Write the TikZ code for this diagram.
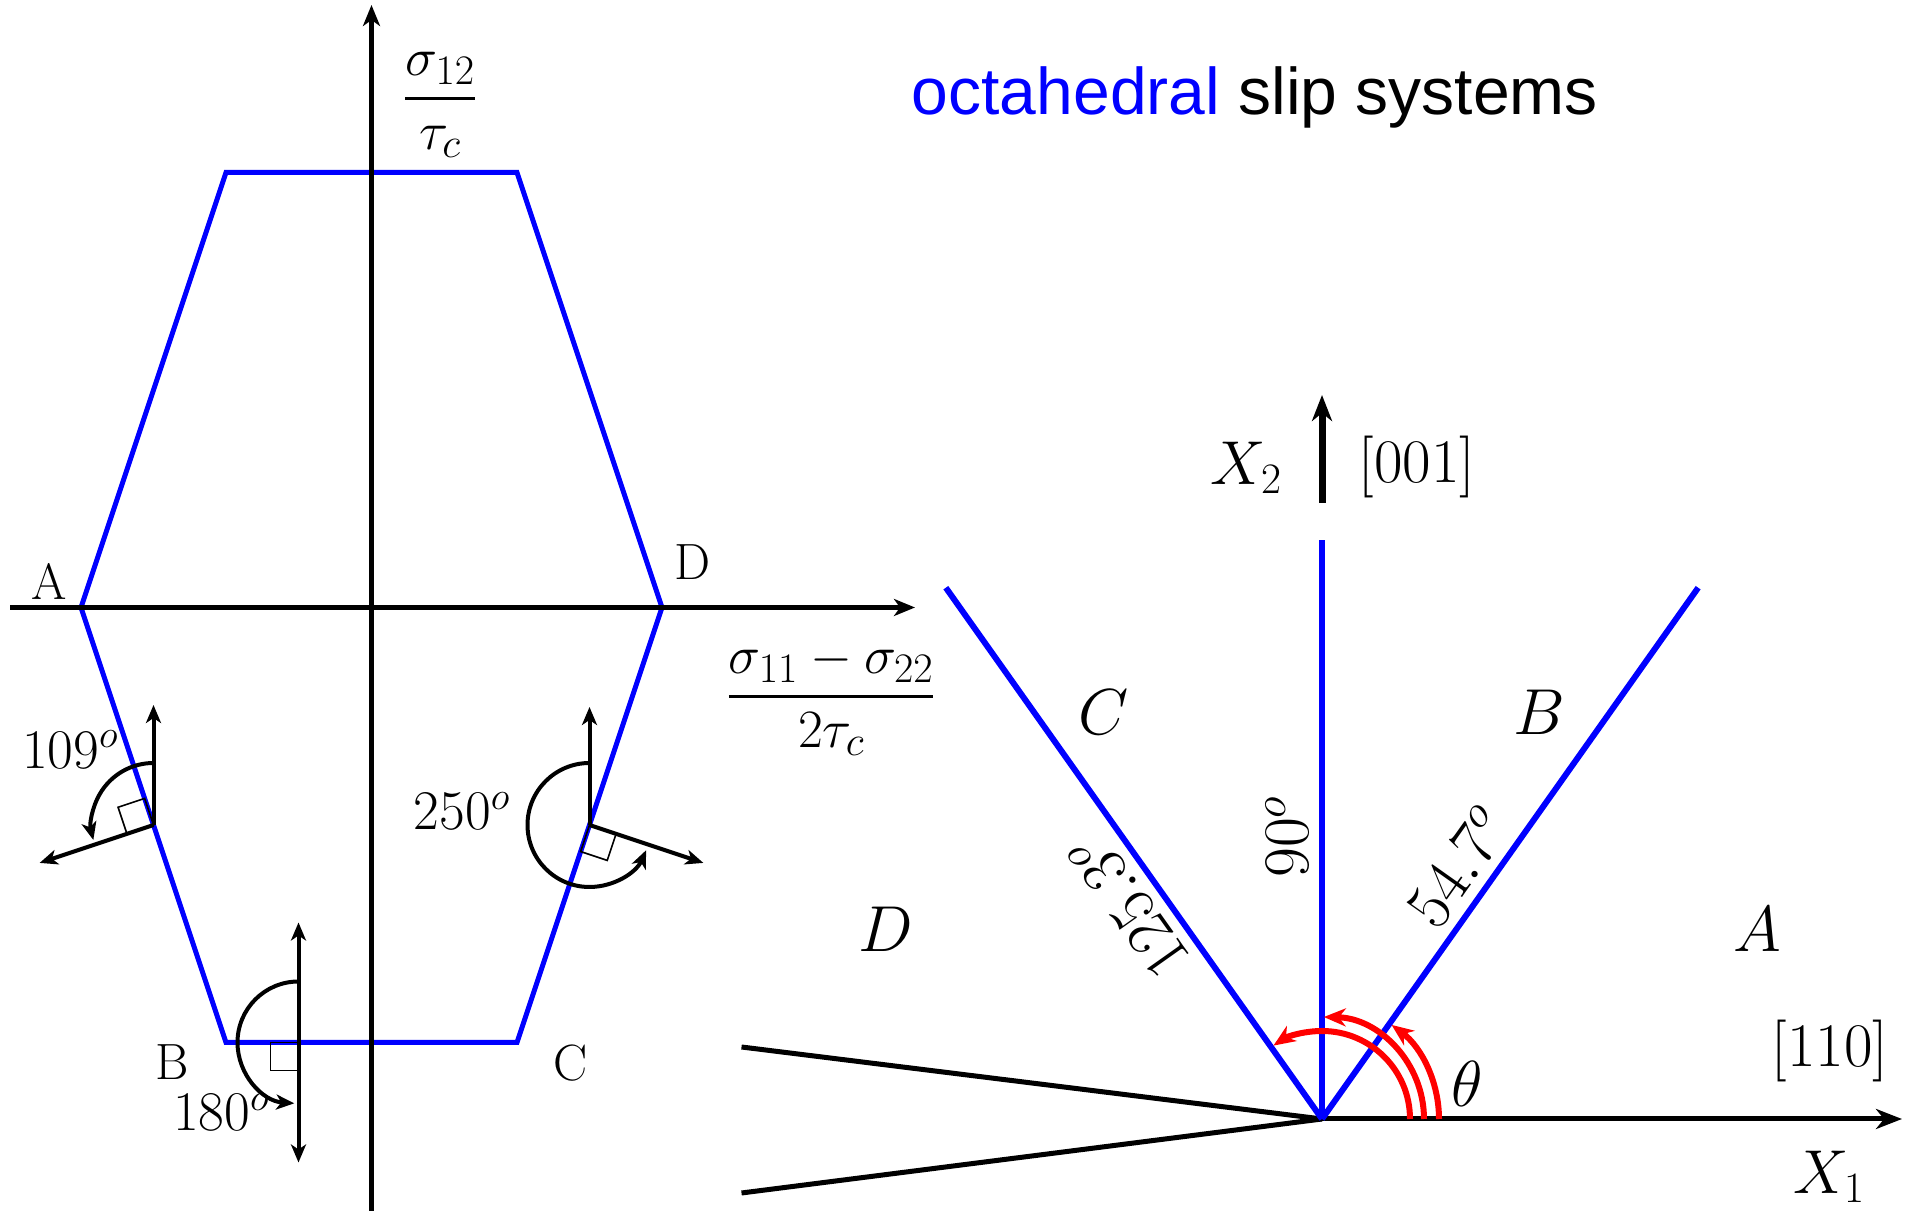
\RequirePackage{fix-cm}
\documentclass[tikz,border=0pt]{standalone}
\usepackage{amsmath}
\usepackage{fontspec}
\newfontfamily\titlefont{Liberation Sans}
\usetikzlibrary{arrows.meta,calc}
\newcommand\sbz[1]{\mbox{\fontsize{42}{46}\selectfont$#1$}}

\begin{document}
\begin{tikzpicture}[x=1pt,y=1pt,
  ax/.style={line width=5pt},
  hexa/.style={blue,line width=5pt,line join=miter},
  slipline/.style={blue,line width=6pt},
  sq/.style={line width=1.6pt},
  smallar/.style={line width=4pt},
  redarc/.style={red,line width=6pt},
  tipA/.style={-{Stealth[length=21pt,width=17pt,inset=6pt]}},
  tipB/.style={-{Stealth[length=26pt,width=20pt,inset=8pt]}},
  tipS/.style={-{Stealth[length=18pt,width=15pt,inset=5pt]}},
  tipSS/.style={{Stealth[length=18pt,width=15pt,inset=5pt]}-{Stealth[length=18pt,width=15pt,inset=5pt]}},
  tipR/.style={-{Stealth[length=22pt,width=18pt,inset=7pt]}},
  lbl/.style={inner sep=0pt,font=\fontsize{51}{60}\selectfont},
  ang/.style={inner sep=0pt,font=\fontsize{56}{66}\selectfont},
  fraclbl/.style={inner sep=0pt,font=\fontsize{54}{64}\selectfont},
  mlbl/.style={inner sep=0pt,font=\fontsize{62}{74}\selectfont},
  rlbl/.style={inner sep=0pt,font=\fontsize{65}{78}\selectfont},
]
\useasboundingbox (0,0) rectangle (1909,1217);

% ---------------- left diagram ----------------
\coordinate (O1) at (371.5,609.5);
\coordinate (A) at (81,609.5);
\coordinate (TL) at (226,1044.5);
\coordinate (TR) at (517,1044.5);
\coordinate (D) at (662,609.5);
\coordinate (C) at (517,174.5);
\coordinate (B) at (226,174.5);
\draw[hexa] (A) -- (TL) -- (TR) -- (D) -- (C) -- (B) -- cycle;

\coordinate (yb) at (371.5,6);
\coordinate (yt) at (371.5,1212);
\coordinate (xl) at (10,609.5);
\coordinate (xr) at (915,609.5);
\draw[ax,tipA] (yb) -- (yt);
\draw[ax,tipA] (xl) -- (xr);

\coordinate (V1) at ($(A)!0.5!(B)$);
\coordinate (V2) at (298.5,174.5);
\coordinate (V3) at ($(D)!0.5!(C)$);

% 109 deg
\draw[sq] (V1) -- ++(198.43:28pt) -- ++(108.43:28pt) -- ++(18.43:28pt) -- cycle;
\coordinate (V1u) at ($(V1)+(0,120)$);
\coordinate (V1n) at ($(V1)+(198.43:120pt)$);
\draw[smallar,tipS] (V1) -- (V1u);
\draw[smallar,tipS] (V1) -- (V1n);
\draw[smallar,tipS] ($(V1)+(90:62pt)$) arc[start angle=90,end angle=194,radius=62pt];

% 180 deg
\draw[sq] (V2) -- ++(-28,0) -- ++(0,-28) -- ++(28,0) -- cycle;
\coordinate (V2u) at ($(V2)+(0,120)$);
\coordinate (V2d) at ($(V2)+(0,-120)$);
\draw[smallar,tipSS] (V2d) -- (V2u);
\draw[smallar,tipS] ($(V2)+(90:61pt)$) arc[start angle=90,end angle=266,radius=61pt];

% 250 deg
\draw[sq] (V3) -- ++(-18.43:28pt) -- ++(251.57:28pt) -- ++(161.57:28pt) -- cycle;
\coordinate (V3u) at ($(V3)+(0,118)$);
\coordinate (V3n) at ($(V3)+(-18.43:120pt)$);
\draw[smallar,tipS] (V3) -- (V3u);
\draw[smallar,tipS] (V3) -- (V3n);
\draw[smallar,tipS] ($(V3)+(90:62pt)$) arc[start angle=90,end angle=336,radius=62pt];

\node[lbl] (lA) at (48.7,636) {A};
\node[lbl] (lD) at (692.5,655) {D};
\node[lbl] (lB) at (172.5,155.3) {B};
\node[lbl] (lC) at (571,154) {C};
\node[ang] (a109) at (70,467.5) {$109^o$};
\node[ang] (a180) at (221,105) {$180^o$};
\node[ang] (a250) at (461.7,406) {$250^o$};
\node[fraclbl] (f1) at (440,1112) {$\genfrac{}{}{3pt}{0}{\sigma_{\sbz{12}}}{\tau_{\sbz{c}}}$};
\node[fraclbl] (f2) at (831,518) {$\genfrac{}{}{3pt}{0}{\sigma_{\sbz{11}}-\sigma_{\sbz{22}}}{2\tau_{\sbz{c}}}$};

% ---------------- title ----------------
\node[anchor=base west,inner sep=0pt,font=\titlefont\fontsize{66}{80}\selectfont] (title) at (911.7,1102) {\textcolor{blue}{octahedral} slip systems};

% ---------------- right diagram ----------------
\coordinate (O2) at (1322,98);
\coordinate (SB) at ($(O2)+(54.7:651pt)$);
\coordinate (SC) at ($(O2)+(125.3:651pt)$);
\coordinate (SV) at (1322,677);
\coordinate (L1) at (741.5,170);
\coordinate (L2) at (741.5,24);
\coordinate (X1e) at (1902,98);
\coordinate (X2s) at (1322,714);
\coordinate (X2e) at (1322,822);

\draw[ax] (O2) -- (L1);
\draw[ax] (O2) -- (L2);
\draw[ax,tipB] (O2) -- (X1e);
\draw[slipline] (O2) -- (SB);
\draw[slipline] (O2) -- (SV);
\draw[slipline] (O2) -- (SC);
\draw[line width=7pt,tipB] (X2s) -- (X2e);

\draw[redarc,tipR] ($(O2)+(88pt,0)$) arc[start angle=0,end angle=123.5,radius=88pt];
\draw[redarc,tipR] ($(O2)+(102pt,0)$) arc[start angle=0,end angle=89,radius=102pt];
\draw[redarc,tipR] ($(O2)+(117pt,0)$) arc[start angle=0,end angle=53.5,radius=117pt];

\node[rlbl,rotate=54.7,anchor=south] (a547) at ($(O2)+(54.7:284pt)+(144.7:13pt)$) {$54.7^o$};
\node[rlbl,rotate=90,anchor=south] (a90) at ($(O2)+(90:282pt)+(180:13pt)$) {$90^o$};
\node[rlbl,rotate=125.3,anchor=south] (a1253) at ($(O2)+(125.3:285pt)+(215.3:13pt)$) {$125.3^o$};

\node[mlbl] (tX2) at (1246,749) {$X_2$};
\node[mlbl] (t001) at (1417,749.5) {$[001]$};
\node[mlbl] (t110) at (1830,165.5) {$[110]$};
\node[mlbl] (tX1) at (1829,40.5) {$X_1$};
\node[rlbl] (tth) at (1467.5,133) {$\theta$};
\node[rlbl] (tC) at (1104,504.5) {$C$};
\node[rlbl] (tB) at (1539,505) {$B$};
\node[rlbl] (tD) at (886,288) {$D$};
\node[rlbl] (tA) at (1757,288) {$A$};
\end{tikzpicture}
\end{document}
